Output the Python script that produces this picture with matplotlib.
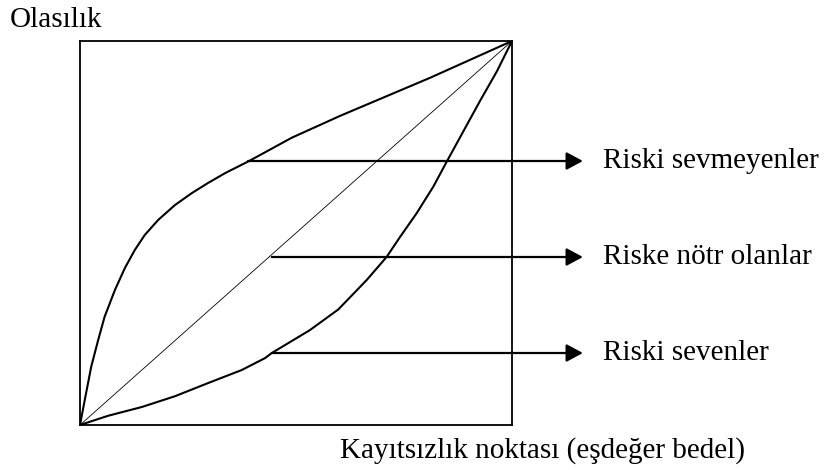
import matplotlib.pyplot as plt

# ---------- DATA (box = 0..1 on both axes) ----------
averse_x = [0, 0.011, 0.026, 0.042, 0.057, 0.081, 0.104, 0.127, 0.150,
            0.181, 0.220, 0.259, 0.296, 0.336, 0.389, 0.49, 0.602, 0.81, 1.0]
averse_y = [0, 0.065, 0.152, 0.221, 0.282, 0.352, 0.409, 0.456, 0.495,
            0.534, 0.573, 0.604, 0.630, 0.656, 0.686, 0.748, 0.805, 0.904, 1.0]

loving_x = [0, 0.065, 0.1435, 0.220, 0.296, 0.374, 0.428, 0.444, 0.532, 0.598,
            0.664, 0.710, 0.741, 0.779, 0.818, 0.849, 0.926, 0.965, 1.0]
loving_y = [0, 0.024, 0.047, 0.075, 0.109, 0.143, 0.174, 0.1875, 0.247, 0.301,
            0.378, 0.438, 0.490, 0.551, 0.621, 0.686, 0.844, 0.921, 1.0]

neutral_x = [0, 1]
neutral_y = [0, 1]

labels = ["Riski sevmeyenler", "Riske nötr olanlar", "Riski sevenler"]
arrow_y = [0.6875, 0.4375, 0.1875]
arrow_start = [0.389, 0.444, 0.444]

xlabel = "Kayıtsızlık noktası (eşdeğer bedel)"
ylabel = "Olasılık"

# ---------- FIGURE ----------
plt.rcParams['font.family'] = ['Liberation Serif', 'DejaVu Serif']

fig = plt.figure(figsize=(8.25, 4.7), dpi=100)
ax = fig.add_axes([80/825, 45/470, 432/825, 384/470])
ax.set_xlim(0, 1)
ax.set_ylim(0, 1)
ax.set_xticks([])
ax.set_yticks([])
for s in ax.spines.values():
    s.set_linewidth(1.3)

ax.plot(averse_x, averse_y, color='black', lw=1.5, solid_joinstyle='round')
ax.plot(loving_x, loving_y, color='black', lw=1.5, solid_joinstyle='round')
ax.plot(neutral_x, neutral_y, color='black', lw=0.6)

# arrows and labels
for lab, y, x0 in zip(labels, arrow_y, arrow_start):
    ax.annotate('', xy=(1.164, y), xytext=(x0, y), xycoords='data',
                arrowprops=dict(arrowstyle='-|>,head_length=0.5,head_width=0.27',
                                mutation_scale=20, lw=1.6, color='black',
                                shrinkA=0, shrinkB=0),
                annotation_clip=False)
    ax.text(1.211, y, lab, fontsize=21, va='center', ha='left',
            clip_on=False)

fig.text(10/825, 1 - 20/470, ylabel, fontsize=21, va='center', ha='left')
fig.text(340/825, 1 - 451/470, xlabel, fontsize=21, va='center', ha='left')

fig.savefig("out.png", dpi=100)
